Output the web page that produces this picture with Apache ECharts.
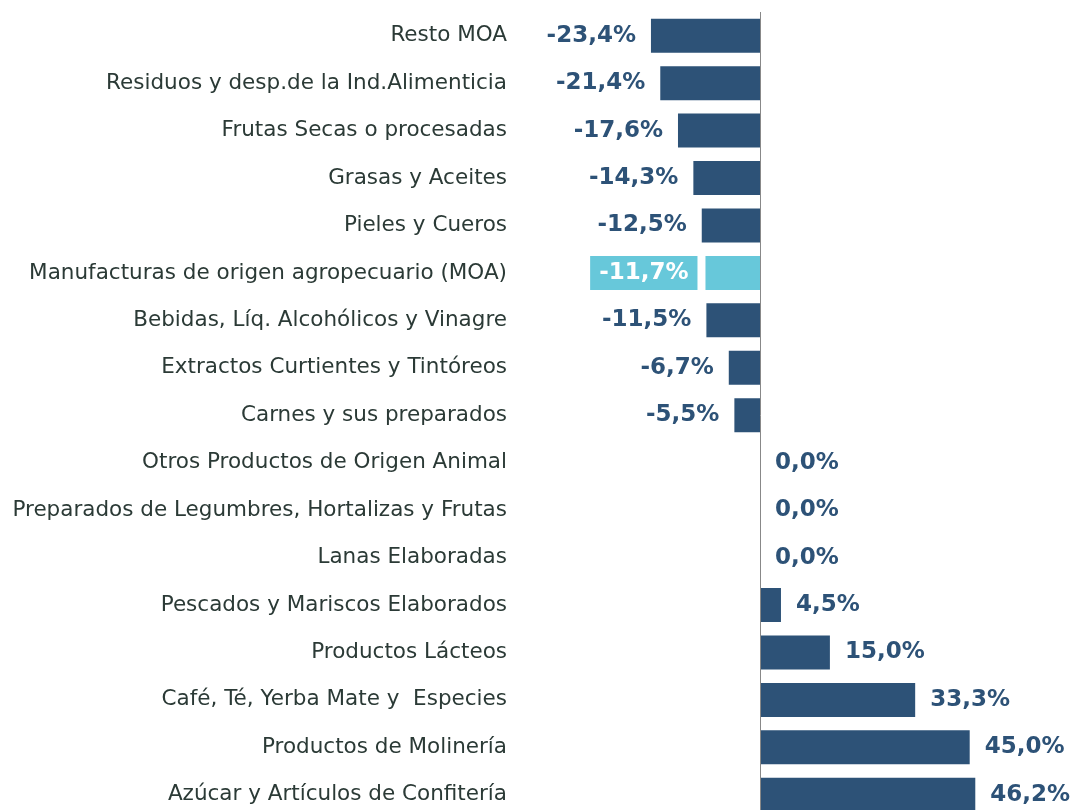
<!DOCTYPE html>
<html>
<head>
<meta charset="utf-8">
<script src="https://cdn.jsdelivr.net/npm/echarts@6/dist/echarts.min.js"></script>
<style>
  html, body { margin: 0; padding: 0; background: #fff; overflow: hidden; }
  #chart { width: 1074px; height: 830px; }
</style>
</head>
<body>
<div id="chart"></div>
<script>
const categories = [
  'Resto MOA',
  'Residuos y desp.de la Ind.Alimenticia',
  'Frutas Secas o procesadas',
  'Grasas y Aceites',
  'Pieles y Cueros',
  'Manufacturas de origen agropecuario (MOA)',
  'Bebidas, Líq. Alcohólicos y Vinagre',
  'Extractos Curtientes y Tintóreos',
  'Carnes y sus preparados',
  'Otros Productos de Origen Animal',
  'Preparados de Legumbres, Hortalizas y Frutas',
  'Lanas Elaboradas',
  'Pescados y Mariscos Elaborados',
  'Productos Lácteos',
  'Café, Té, Yerba Mate y  Especies',
  'Productos de Molinería',
  'Azúcar y Artículos de Confitería'
]
const values = [-23.4, -21.4, -17.6, -14.3, -12.5, -11.7, -11.5, -6.7, -5.5, 0.0, 0.0, 0.0, 4.5, 15.0, 33.3, 45.0, 46.2]
const highlight = 'Manufacturas de origen agropecuario (MOA)'

const dark = '#2D5277'
const light = '#67C8DA'
const font = "'DejaVu Sans', Verdana, sans-serif"

const fmt = (v) => v.toFixed(1).replace('.', ',') + '%'

const chart = echarts.init(document.getElementById('chart'))

const seriesData = values.map((v, i) => {
  const isHi = categories[i] === highlight
  const item = {
    value: v,
    itemStyle: { color: isHi ? light : dark },
    label: {
      position: v < 0 ? 'left' : 'right',
      distance: 15
    }
  }
  if (isHi) {
    // highlighted row: white label on a light blue box
    item.label = {
      position: 'left',
      distance: 8,
      color: '#fff',
      backgroundColor: light,
      padding: [6, 9, 5, 9],
      lineHeight: 23
    }
  }
  return item
})

const option = {
  animation: false,
  grid: {
    left: 527,
    width: 512.6,
    top: 12,
    height: 806.5
  },
  xAxis: {
    type: 'value',
    min: -50,
    max: 60,
    show: false,
    splitLine: { show: false }
  },
  yAxis: {
    type: 'category',
    data: categories,
    inverse: true,
    axisLine: { show: false, onZero: false },
    axisTick: { show: false },
    axisLabel: {
      color: '#2B3A36',
      fontFamily: font,
      fontSize: 21.5,
      margin: 20
    }
  },
  series: [
    {
      type: 'bar',
      data: seriesData,
      barWidth: 34,
      label: {
        show: true,
        formatter: (p) => fmt(p.value),
        color: dark,
        fontFamily: font,
        fontWeight: 'bold',
        fontSize: 23
      },
      markLine: {
        silent: true,
        symbol: 'none',
        label: { show: false },
        lineStyle: { color: '#888', width: 1, type: 'solid' },
        data: [{ xAxis: 0 }]
      }
    }
  ]
}

chart.setOption(option)
</script>
</body>
</html>
